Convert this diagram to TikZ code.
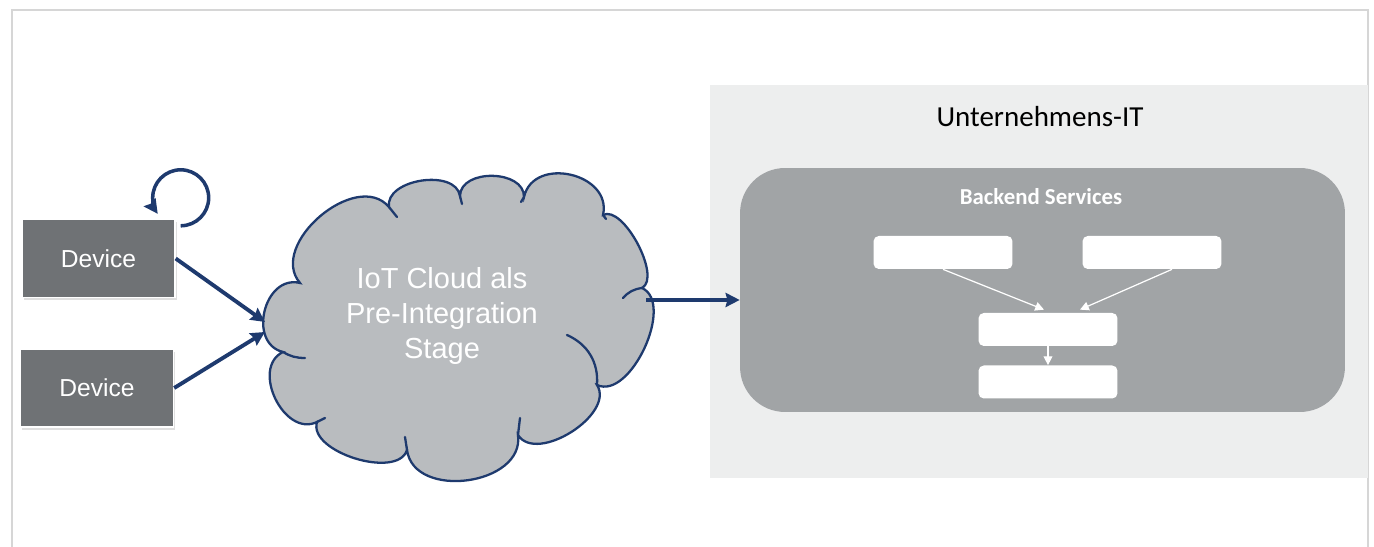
\documentclass[tikz,border=0pt]{standalone}
\usepackage{fontspec}
\setmainfont{Liberation Sans}
\newfontfamily\calibrifont{Carlito}
\usepackage{tikz}
\usetikzlibrary{shadows}
\usetikzlibrary{arrows.meta}

\definecolor{devgray}{HTML}{6F7275}
\definecolor{cloudgray}{HTML}{B9BCBF}
\definecolor{navyline}{HTML}{1E3A6E}
\definecolor{panelgray}{HTML}{EDEEEE}
\definecolor{backendgray}{HTML}{A1A4A6}
\definecolor{framegray}{HTML}{D6D6D6}

\tikzset{
  device/.style={rectangle, fill=devgray, draw=white, line width=0.8pt, minimum width=3.06cm, minimum height=1.56cm, text=white, font=\fontsize{14}{16}\selectfont, drop shadow={opacity=0.25, shadow xshift=1pt, shadow yshift=-1.5pt}},
  flow/.style={draw=navyline, line width=2.2pt, -{Stealth[length=8pt,width=8pt,inset=1pt]}},
  cloudline/.style={draw=navyline, line width=1.3pt, line cap=round},
  puff/.style={bend left=90, looseness=#1},
  svcbox/.style={rectangle, rounded corners=3pt, fill=white, minimum width=2.78cm, minimum height=0.66cm},
  svcflow/.style={draw=white, line width=0.7pt, -{Triangle[length=5pt,width=5pt]}},
}

\begin{document}
\begin{tikzpicture}[x=0.02cm,y=0.02cm]
\useasboundingbox (0,0) rectangle (1374,547);
\draw[framegray, line width=0.6pt] (12,0) -- (12,537) -- (1368,537) -- (1368,0);

% right side: enterprise IT
\node[fill=panelgray, minimum width=13.16cm, minimum height=7.86cm, inner sep=0] (itpanel) at (1039,265.5) {};
\node[font=\calibrifont\fontsize{16.5}{18}\selectfont] (ittitle) at (1040,430) {Unternehmens-IT};
\node[fill=backendgray, rounded corners=0.9cm, minimum width=12.1cm, minimum height=4.88cm, inner sep=0] (backend) at (1042.5,257) {};
\node[text=white, font=\calibrifont\bfseries\fontsize{13}{15}\selectfont] (backendtitle) at (1041,350) {Backend Services};
\node[svcbox] (svca) at (943,294.5) {};
\node[svcbox] (svcb) at (1152,294.5) {};
\node[svcbox] (svcc) at (1048,217.5) {};
\node[svcbox] (svcd) at (1048,165) {};
\draw[svcflow] (svca.south) -- ([xshift=-0.08cm,yshift=0.06cm]svcc.north);
\draw[svcflow] ([xshift=0.4cm]svcb.south) -- ([xshift=0.64cm,yshift=0.06cm]svcc.north);
\draw[svcflow] (svcc.south) -- (svcd.north);

% devices
\node[device] (dev1) at (98.5,288.5) {Device};
\node[device] (dev2) at (97,159) {Device};

% cloud outline, puff by puff
\coordinate (cp0) at (283,195);
\coordinate (cp1) at (300,264);
\coordinate (cp2) at (389,340);
\coordinate (cp3) at (460,351);
\coordinate (cp4) at (524,350);
\coordinate (cp5) at (603,332);
\coordinate (cp6) at (642,259);
\coordinate (cp7) at (597,162);
\coordinate (cp8) at (518,112);
\coordinate (cp9) at (407,97);
\coordinate (cp10) at (317,125);
\path[cloudline, fill=cloudgray] (cp0) to[puff=1.33] (cp1) to[puff=1.1] (cp2) to[puff=1.0] (cp3)
  to[puff=1.1] (cp4) to[puff=1.35] (cp5) to[puff=0.7] (cp6) to[puff=0.88] (cp7)
  to[puff=0.95] (cp8) to[puff=1.16] (cp9) to[puff=0.85] (cp10) to[puff=1.2] (cp0) -- cycle;
% inner strokes of the puffs
\draw[cloudline] (cp0) to[bend right=15] (305,189);
\draw[cloudline] (cp2) -- (397,330);
\draw[cloudline] (cp3) -- (462,343);
\draw[cloudline] (cp4) -- (521,345);
\draw[cloudline] (cp5) -- (606,328);
\draw[cloudline] (cp6) to[bend right=20] (623,249);
\draw[cloudline] (567,212) to[bend left=35] (cp7);
\draw[cloudline] (cp8) -- (520,129);
\draw[cloudline] (cp9) -- (405,110);
\draw[cloudline] (cp10) -- (325,129);
\node[text=white, align=center, font=\fontsize{16.5}{20}\selectfont] (cloudtext) at (442,231) {IoT Cloud als\\Pre-Integration\\Stage};
\coordinate (cloudwest) at (265,222);
\coordinate (cloudeast) at (646,247);

\draw[flow] (dev1.east) -- ([yshift=0.06cm]cloudwest);
\draw[flow] (dev2.east) -- ([yshift=-0.14cm]cloudwest);
\draw[flow] (cloudeast) -- ([yshift=-0.2cm]backend.west);

\coordinate (loopstart) at ([xshift=0.1cm,yshift=-0.14cm]dev1.north east);
\draw[flow, line width=2pt] (loopstart) arc[start angle=-90, end angle=215, radius=0.56cm];

\end{tikzpicture}
\end{document}
